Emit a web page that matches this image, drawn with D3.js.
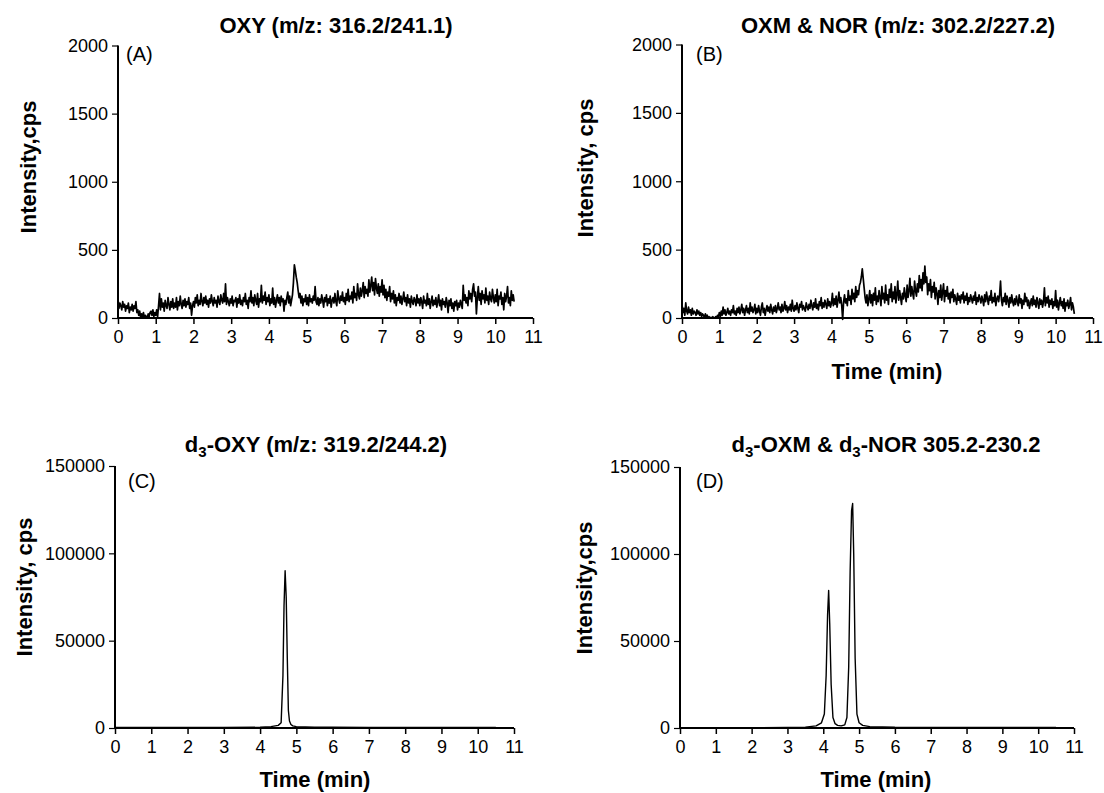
<!DOCTYPE html>
<html>
<head>
<meta charset="utf-8">
<script src="https://cdn.jsdelivr.net/npm/d3@7"></script>
<style>
  body { margin: 0; background: #fff; }
  svg { font-family: "Liberation Sans", Arial, sans-serif; }
</style>
</head>
<body>
<svg id="drawing_region" width="1104" height="793"></svg>
<script>
// time ticks shared by every panel
const timeTicks = [0, 1, 2, 3, 4, 5, 6, 7, 8, 9, 10, 11];
const lowTicks = [0, 500, 1000, 1500, 2000];
const highTicks = [0, 50000, 100000, 150000];

// (A) OXY 316.2/241.1, one reading every 0.025 min, 0 to 10.5 (a row is 0.5 min)
const oxyIntensity = [
  140, 70, 110, 90, 60, 120, 80, 100, 50, 90, 70, 110, 40, 80, 60, 100, 50, 90, 70, 120,
  40, 60, 20, 50, 0, 30, 10, 40, 0, 20, 10, 0, 30, 10, 40, 50, 20, 60, 10, 40,
  20, 60, 10, 90, 180, 60, 140, 80, 110, 50, 130, 90, 70, 150, 100, 60, 120, 80, 140, 70,
  110, 80, 150, 60, 120, 90, 160, 100, 70, 130, 90, 140, 80, 120, 100, 150, 70, 110, 20, 90,
  120, 80, 150, 110, 170, 90, 130, 100, 180, 120, 90, 150, 110, 160, 100, 130, 80, 140, 110, 170,
  120, 90, 150, 110, 130, 80, 160, 120, 100, 170, 130, 110, 180, 120, 250, 100, 150, 120, 90, 140,
  110, 160, 90, 130, 120, 150, 80, 140, 110, 170, 100, 130, 90, 150, 120, 180, 100, 130, 70, 150,
  120, 200, 110, 150, 90, 170, 130, 100, 180, 80, 140, 120, 240, 110, 160, 130, 190, 100, 150, 120,
  170, 90, 140, 110, 220, 100, 150, 80, 130, 170, 110, 150, 90, 160, 120, 140, 50, 130, 100, 150,
  190, 110, 160, 90, 130, 170, 260, 390, 350, 300, 260, 200, 150, 180, 110, 160, 90, 140, 120, 170,
  100, 150, 90, 170, 120, 140, 110, 160, 130, 230, 120, 100, 150, 90, 140, 110, 170, 130, 80, 150,
  120, 170, 90, 140, 110, 160, 80, 130, 150, 110, 180, 120, 90, 200, 140, 110, 160, 130, 190, 120,
  150, 100, 180, 130, 210, 120, 160, 140, 190, 110, 230, 150, 180, 130, 250, 170, 140, 220, 160, 200,
  260, 150, 230, 180, 210, 160, 280, 190, 240, 300, 200, 260, 170, 290, 220, 180, 250, 160, 230, 190,
  280, 170, 240, 150, 210, 130, 190, 160, 230, 120, 180, 140, 200, 110, 170, 90, 150, 130, 180, 110,
  160, 100, 140, 190, 120, 150, 90, 170, 110, 140, 80, 160, 120, 100, 150, 130, 90, 170, 110, 140,
  90, 150, 120, 70, 160, 110, 130, 90, 180, 100, 140, 70, 120, 160, 90, 130, 100, 150, 80, 120,
  170, 90, 130, 60, 140, 100, 120, 80, 150, 110, 40, 130, 90, 140, 70, 110, 50, 120, 90, 130,
  60, 110, 80, 130, 100, 70, 240, 130, 170, 110, 150, 90, 200, 140, 180, 120, 210, 250, 160, 190,
  30, 150, 230, 130, 180, 100, 200, 140, 170, 110, 220, 130, 160, 100, 190, 140, 120, 210, 150, 110,
  170, 120, 210, 90, 160, 140, 190, 100, 150, 60, 180, 120, 160, 230, 110, 150, 90, 200, 130, 170,
  120
];
const oxyTime = oxyIntensity.map( (v, i) => i * 0.025 );

// (B) OXM & NOR 302.2/227.2, same acquisition grid
const oxmIntensity = [
  100, 40, 70, 20, 110, 50, 30, 80, 40, 60, 20, 70, 30, 50, 40, 20, 60, 30, 50, 20,
  40, 10, 30, 20, 0, 30, 10, 20, 0, 10, 0, 5, 0, 10, 0, 0, 10, 0, 20, 10,
  40, 10, 50, 20, 80, 30, 60, 20, 40, 70, 30, 50, 20, 60, 40, 90, 30, 50, 20, 70,
  40, 80, 30, 60, 100, 40, 70, 20, 60, 90, 40, 70, 30, 110, 50, 80, 40, 60, 100, 30,
  70, 40, 90, 50, 20, 80, 110, 40, 70, 20, 60, 90, 50, 80, 40, 100, 60, 30, 80, 50,
  90, 40, 70, 110, 60, 80, 40, 100, 50, 70, 120, 60, 90, 40, 80, 60, 100, 50, 130, 70,
  50, 90, 60, 110, 70, 40, 100, 80, 120, 60, 90, 70, 50, 110, 80, 60, 100, 70, 130, 90,
  60, 110, 80, 140, 70, 100, 60, 120, 90, 150, 70, 110, 80, 130, 100, 70, 140, 90, 120, 80,
  110, 180, 90, 140, 100, 160, 80, 130, 190, 110, 150, 90, -10, 120, 170, 110, 140, 90, 200, 130,
  160, 100, 210, 140, 180, 120, 230, 150, 200, 170, 240, 260, 300, 360, 290, 220, 150, 110, 170, 90,
  140, 200, 110, 170, 90, 180, 130, 220, 100, 160, 120, 200, 150, 90, 230, 140, 180, 110, 240, 130,
  170, 100, 210, 150, 250, 120, 190, 140, 230, 110, 170, 270, 130, 200, 150, 100, 180, 140, 220, 160,
  120, 240, 150, 200, 290, 160, 230, 180, 140, 270, 200, 160, 250, 190, 310, 220, 280, 200, 330, 250,
  380, 260, 300, 170, 250, 200, 280, 150, 230, 190, 260, 140, 220, 180, 100, 200, 150, 240, 130, 190,
  250, 120, 200, 160, 230, 140, 180, 110, 190, 150, 210, 120, 170, 140, 100, 180, 130, 160, 110, 170,
  140, 190, 110, 160, 130, 180, 100, 150, 120, 170, 140, 110, 160, 130, 190, 100, 150, 120, 170, 140,
  110, 160, 130, 90, 170, 120, 190, 140, 100, 160, 130, 200, 110, 150, 120, 180, 90, 140, 160, 120,
  170, 270, 130, 90, 150, 120, 180, 100, 160, 130, 80, 150, 110, 170, 120, 90, 140, 100, 160, 120,
  90, 170, 110, 140, 70, 130, 100, 180, 120, 150, 90, 130, 70, 110, 140, 90, 160, 100, 130, 80,
  150, 110, 70, 140, 100, 130, 80, 120, 220, 90, 150, 110, 160, 80, 130, 100, 140, 70, 120, 90,
  200, 80, 130, 60, 110, 150, 90, 120, 70, 140, 50, 110, 90, 130, 70, 100, 150, 60, 110, 80,
  30
];
const oxmTime = oxmIntensity.map( (v, i) => i * 0.025 );

// (C) d3-OXY 319.2/244.2
const d3oxyTime = [0, 1, 2, 3, 4, 4.3, 4.5, 4.58, 4.63, 4.66, 4.69, 4.72, 4.75, 4.78, 4.81, 4.85, 4.9, 5.0, 5.5, 6, 7, 8, 9, 10, 10.5];
const d3oxyIntensity = [300, 300, 300, 300, 400, 800, 1500, 3000, 30000, 70000, 90000, 75000, 40000, 10000, 4000, 2000, 1200, 800, 500, 400, 300, 300, 300, 300, 300];

// (D) d3-OXM & d3-NOR 305.2-230.2
const d3oxmTime = [0, 1, 2, 3, 3.5, 3.8, 3.95, 4.03, 4.08, 4.12, 4.15, 4.18, 4.22, 4.27, 4.33, 4.4, 4.5, 4.6, 4.66, 4.71, 4.75, 4.79, 4.82, 4.85, 4.89, 4.94, 5.0, 5.1, 5.3, 6, 7, 8, 9, 10, 10.5];
const d3oxmIntensity = [200, 200, 200, 300, 500, 1200, 3000, 8000, 30000, 65000, 79000, 60000, 25000, 6000, 2500, 1500, 1200, 1800, 6000, 35000, 90000, 125000, 129000, 100000, 40000, 8000, 3000, 1500, 800, 400, 300, 300, 300, 300, 300];

class ChromPlot {
    constructor( config, xs, ys ) {
        this.config = config;
        this.data = xs.map( (x, i) => ({ x: x, y: ys[i] }) );
        this.init();
    }

    init() {
        let self = this;
        const c = self.config;
        self.chart = d3.select('#drawing_region').append('g');

        self.xscale = d3.scaleLinear()
            .domain( [0, 11] )
            .range( [c.left, c.right] );
        self.yscale = d3.scaleLinear()
            .domain( [0, c.ymax] )
            .range( [c.bottom, c.top] );
        self.render();
    }

    render() {
        let self = this;
        const c = self.config;

        const xaxis = d3.axisBottom( self.xscale )
            .tickValues( timeTicks )
            .tickSize( 6 )
            .tickPadding( 6 )
            .tickFormat( d3.format('d') );
        const xg = self.chart.append('g')
            .attr('transform', `translate(0, ${c.bottom})`)
            .call( xaxis );
        xg.select('.domain').attr('stroke-width', 2).attr('d', `M${c.left},0H${c.right}`);
        xg.selectAll('.tick line').attr('stroke-width', 1.5);
        xg.selectAll('text').attr('font-size', '18px').attr('fill', '#000');

        const yaxis = d3.axisLeft( self.yscale )
            .tickValues( c.yticks )
            .tickSize( 6 )
            .tickPadding( 4 )
            .tickFormat( d3.format('d') );
        const yg = self.chart.append('g')
            .attr('transform', `translate(${c.left}, 0)`)
            .call( yaxis );
        yg.select('.domain').attr('stroke-width', 2).attr('d', `M0,${c.bottom}V${c.top}`);
        yg.selectAll('.tick line').attr('stroke-width', 1.2);
        yg.selectAll('text').attr('font-size', '18px').attr('fill', '#000');

        const line = d3.line()
            .x( d => self.xscale( d.x ) )
            .y( d => self.yscale( d.y ) );
        self.chart.append('path')
            .datum( self.data )
            .attr('fill', 'none')
            .attr('stroke', '#000')
            .attr('stroke-width', c.lineWidth)
            .attr('stroke-linejoin', 'round')
            .attr('d', line);

        const title = self.chart.append('text')
            .attr('x', c.titleX)
            .attr('y', c.titleY)
            .attr('text-anchor', 'middle')
            .attr('font-size', '22px')
            .attr('font-weight', 'bold');
        c.title.forEach( part => {
            const t = title.append('tspan').text( part.t );
            if (part.sub) t.attr('font-size', '15px').attr('dy', 5);
            else if (part.after) t.attr('dy', -5);
        });

        self.chart.append('text')
            .attr('x', c.tagX)
            .attr('y', c.tagY)
            .attr('font-size', '20px')
            .text( c.tag );

        self.chart.append('text')
            .attr('transform', `translate(${c.ylabelX}, ${c.ylabelY}) rotate(-90)`)
            .attr('text-anchor', 'middle')
            .attr('font-size', '22px')
            .attr('font-weight', 'bold')
            .text( c.ylabel );

        if (c.xlabel) {
            self.chart.append('text')
                .attr('x', c.xlabelX)
                .attr('y', c.xlabelY)
                .attr('text-anchor', 'middle')
                .attr('font-size', '22px')
                .attr('font-weight', 'bold')
                .text( c.xlabel );
        }
    }
}

new ChromPlot({
    left: 118, right: 533, top: 45.5, bottom: 318, ymax: 2000, yticks: lowTicks,
    title: [{t: 'OXY (m/z: 316.2/241.1)'}], titleX: 336, titleY: 33,
    tag: '(A)', tagX: 126, tagY: 61,
    ylabel: 'Intensity,cps', ylabelX: 36, ylabelY: 167,
    xlabel: null, lineWidth: 1.7
}, oxyTime, oxyIntensity);

new ChromPlot({
    left: 682, right: 1093, top: 44.5, bottom: 318, ymax: 2000, yticks: lowTicks,
    title: [{t: 'OXM & NOR (m/z: 302.2/227.2)'}], titleX: 898, titleY: 33,
    tag: '(B)', tagX: 696, tagY: 61,
    ylabel: 'Intensity, cps', ylabelX: 593, ylabelY: 168,
    xlabel: 'Time (min)', xlabelX: 887, xlabelY: 379, lineWidth: 1.7
}, oxmTime, oxmIntensity);

new ChromPlot({
    left: 115, right: 514, top: 466, bottom: 728, ymax: 150000, yticks: highTicks,
    title: [{t: 'd'}, {t: '3', sub: true}, {t: '-OXY (m/z: 319.2/244.2)', after: true}], titleX: 316, titleY: 452,
    tag: '(C)', tagX: 128, tagY: 488,
    ylabel: 'Intensity, cps', ylabelX: 32, ylabelY: 587,
    xlabel: 'Time (min)', xlabelX: 315, xlabelY: 787, lineWidth: 1.4
}, d3oxyTime, d3oxyIntensity);

new ChromPlot({
    left: 680, right: 1074, top: 467, bottom: 728, ymax: 150000, yticks: highTicks,
    title: [{t: 'd'}, {t: '3', sub: true}, {t: '-OXM & d', after: true}, {t: '3', sub: true}, {t: '-NOR 305.2-230.2', after: true}], titleX: 886, titleY: 452,
    tag: '(D)', tagX: 696, tagY: 488,
    ylabel: 'Intensity,cps', ylabelX: 592, ylabelY: 588,
    xlabel: 'Time (min)', xlabelX: 876, xlabelY: 787, lineWidth: 1.4
}, d3oxmTime, d3oxmIntensity);
</script>
</body>
</html>
